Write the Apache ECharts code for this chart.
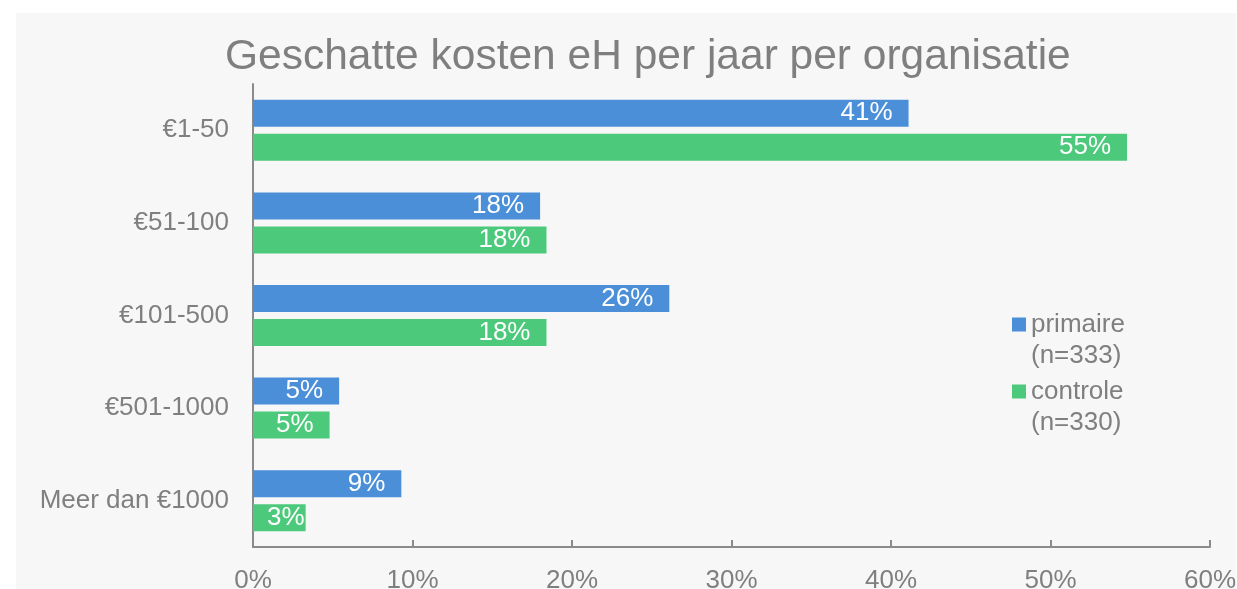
<!DOCTYPE html>
<html>
<head>
<meta charset="utf-8">
<script src="https://cdn.jsdelivr.net/npm/echarts@6/dist/echarts.min.js"></script>
<style>
  html, body { margin: 0; padding: 0; background: #ffffff; }
  #panel { position: absolute; left: 16px; top: 13px; width: 1220px; height: 576px; background: #f7f7f7; }
  #chart { position: absolute; left: 0; top: 0; width: 1237px; height: 589px; }
</style>
</head>
<body>
<div id="panel"></div>
<div id="chart"></div>
<script>
// categorieën (boven naar beneden)
const categories = ['€1-50', '€51-100', '€101-500', '€501-1000', 'Meer dan €1000']
// percentages
const primaire = [41.1, 18.0, 26.1, 5.4, 9.3]
const controle = [54.8, 18.4, 18.4, 4.8, 3.3]
const seriesNames = ['primaire\n(n=333)', 'controle\n(n=330)']
const xTicks = { min: 0, max: 60, interval: 10 }

const gray = '#7f7f7f'
const font = 'Liberation Sans, Arial, sans-serif'

const chart = echarts.init(document.getElementById('chart'))

const barLabel = {
  show: true,
  position: 'insideRight',
  distance: 16,
  color: '#ffffff',
  fontFamily: font,
  fontSize: 26,
  formatter: p => Math.round(p.value) + '%'
}

// zoals Excel: bij een korte balk schuift het label naar het einde
const toBarData = arr => arr.map(v => (v < 4 ? { value: v, label: { distance: 1 } } : v))

const option = {
  animation: false,
  title: {
    text: 'Geschatte kosten eH per jaar per organisatie',
    left: 225,
    top: 36,
    padding: 0,
    textStyle: { color: gray, fontFamily: font, fontSize: 42.5, fontWeight: 'normal' }
  },
  legend: {
    orient: 'vertical',
    left: 1012,
    top: 278,
    padding: 0,
    itemWidth: 14,
    itemHeight: 14,
    itemGap: -26,
    icon: 'rect',
    formatter: name => '\n' + name,
    textStyle: {
      color: gray,
      fontFamily: font,
      fontSize: 26,
      lineHeight: 31
    },
    data: seriesNames
  },
  grid: { left: 253, right: 27, top: 84, bottom: 42, outerBoundsMode: 'none' },
  xAxis: {
    type: 'value',
    min: xTicks.min,
    max: xTicks.max,
    interval: xTicks.interval,
    axisLine: { show: true, lineStyle: { color: '#8a8a8a', width: 2 } },
    axisTick: { show: true, inside: true, length: 7, lineStyle: { color: '#8a8a8a', width: 2 } },
    splitLine: { show: false },
    axisLabel: { color: gray, fontFamily: font, fontSize: 26, margin: 21, formatter: '{value}%' }
  },
  yAxis: {
    type: 'category',
    inverse: true,
    data: categories,
    axisLine: { show: true, lineStyle: { color: '#8a8a8a', width: 2 } },
    axisTick: { show: false },
    axisLabel: { color: gray, fontFamily: font, fontSize: 26, margin: 24 }
  },
  series: [
    {
      name: seriesNames[0],
      type: 'bar',
      data: toBarData(primaire),
      barWidth: 27,
      barGap: '26%',
      itemStyle: { color: '#4a8fd8' },
      label: barLabel
    },
    {
      name: seriesNames[1],
      type: 'bar',
      data: toBarData(controle),
      barWidth: 27,
      barGap: '26%',
      itemStyle: { color: '#4cc97b' },
      label: barLabel
    }
  ]
}

chart.setOption(option)
</script>
</body>
</html>
